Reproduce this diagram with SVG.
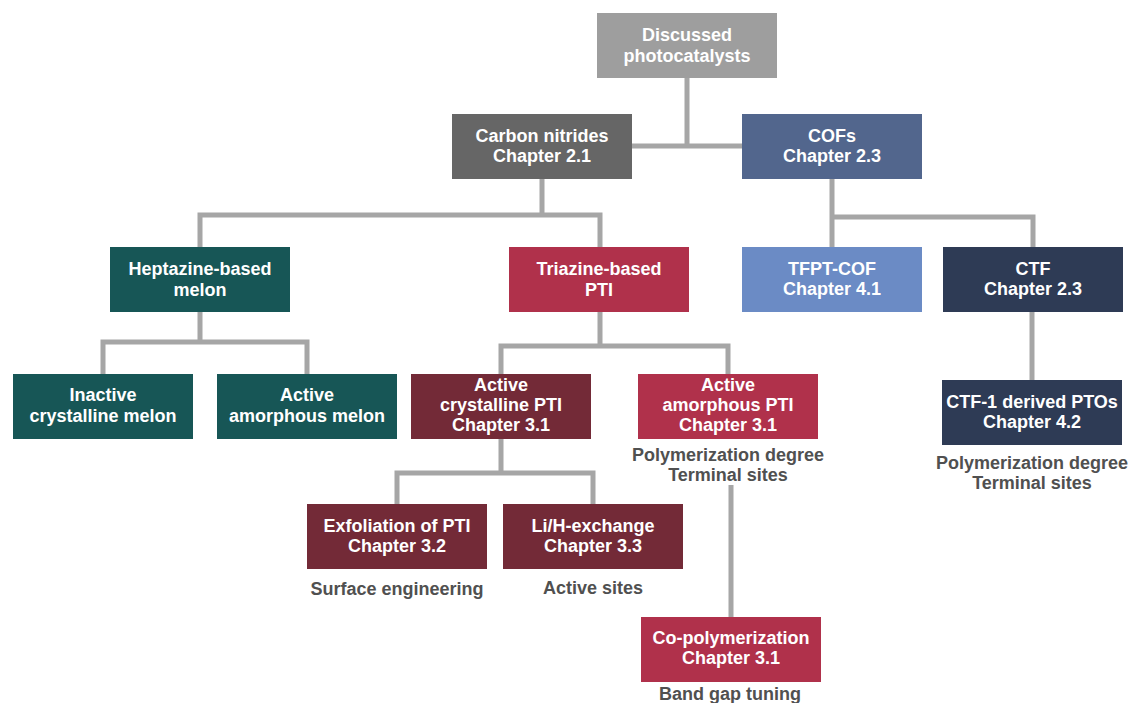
<svg xmlns="http://www.w3.org/2000/svg" width="1130" height="703" viewBox="0 0 1130 703">
<style>
.t{font-family:"Liberation Sans",Arial,sans-serif;font-weight:bold;font-size:18px;text-anchor:middle;fill:#ffffff}
.l{font-family:"Liberation Sans",Arial,sans-serif;font-weight:bold;font-size:18px;text-anchor:middle;fill:#505050}
.c{fill:none;stroke:#a6a6a6;stroke-width:5;stroke-linejoin:miter}
</style>
<rect width="1130" height="703" fill="#ffffff"/>
<g id="connectors">
<path class="c" d="M687 78 V146 M632 146 H742"/>
<path class="c" d="M542 179 V215 M200 247 V215 H600 V247"/>
<path class="c" d="M832 179 V247 M832 217 H1033 V247"/>
<path class="c" d="M200 312 V342 M103 374 V342 H307 V374"/>
<path class="c" d="M600 312 V346 M501 374 V346 H728 V374"/>
<path class="c" d="M501 439 V473 M397 504 V473 H593 V504"/>
<path class="c" d="M731 485 V617"/>
<path class="c" d="M1032 312 V380"/>
</g>
<g id="n-discussed"><rect x="597" y="13" width="180" height="65" fill="#9e9e9e"/><text class="t" x="687" y="41">Discussed</text><text class="t" x="687" y="62">photocatalysts</text></g>
<g id="n-carbon"><rect x="452" y="114" width="180" height="65" fill="#666666"/><text class="t" x="542" y="142">Carbon nitrides</text><text class="t" x="542" y="162">Chapter 2.1</text></g>
<g id="n-cofs"><rect x="742" y="114" width="180" height="65" fill="#52668d"/><text class="t" x="832" y="142">COFs</text><text class="t" x="832" y="162">Chapter 2.3</text></g>
<g id="n-heptazine"><rect x="110" y="247" width="180" height="65" fill="#175656"/><text class="t" x="200" y="275">Heptazine-based</text><text class="t" x="200" y="296">melon</text></g>
<g id="n-triazine"><rect x="509" y="247" width="180" height="65" fill="#b0314b"/><text class="t" x="599" y="275">Triazine-based</text><text class="t" x="599" y="296">PTI</text></g>
<g id="n-tfpt"><rect x="742" y="247" width="180" height="65" fill="#6b8bc5"/><text class="t" x="832" y="275">TFPT-COF</text><text class="t" x="832" y="295">Chapter 4.1</text></g>
<g id="n-ctf"><rect x="943" y="247" width="180" height="65" fill="#2e3b55"/><text class="t" x="1033" y="275">CTF</text><text class="t" x="1033" y="295">Chapter 2.3</text></g>
<g id="n-inactive"><rect x="13" y="374" width="180" height="65" fill="#175656"/><text class="t" x="103" y="401">Inactive</text><text class="t" x="103" y="422">crystalline melon</text></g>
<g id="n-amorphmelon"><rect x="217" y="374" width="180" height="65" fill="#175656"/><text class="t" x="307" y="401">Active</text><text class="t" x="307" y="422">amorphous melon</text></g>
<g id="n-crystpti"><rect x="411" y="374" width="180" height="65" fill="#732a37"/><text class="t" x="501" y="391">Active</text><text class="t" x="501" y="411">crystalline PTI</text><text class="t" x="501" y="431">Chapter 3.1</text></g>
<g id="n-amorphpti"><rect x="638" y="374" width="180" height="65" fill="#b0314b"/><text class="t" x="728" y="391">Active</text><text class="t" x="728" y="411">amorphous PTI</text><text class="t" x="728" y="431">Chapter 3.1</text><text class="l" x="728" y="461">Polymerization degree</text><text class="l" x="728" y="481">Terminal sites</text></g>
<g id="n-ctf1"><rect x="942" y="380" width="180" height="65" fill="#2e3b55"/><text class="t" x="1032" y="408">CTF-1 derived PTOs</text><text class="t" x="1032" y="428">Chapter 4.2</text><text class="l" x="1032" y="469">Polymerization degree</text><text class="l" x="1032" y="489">Terminal sites</text></g>
<g id="n-exfol"><rect x="307" y="504" width="180" height="65" fill="#732a37"/><text class="t" x="397" y="532">Exfoliation of PTI</text><text class="t" x="397" y="552">Chapter 3.2</text><text class="l" x="397" y="595">Surface engineering</text></g>
<g id="n-lih"><rect x="503" y="504" width="180" height="65" fill="#732a37"/><text class="t" x="593" y="532">Li/H-exchange</text><text class="t" x="593" y="552">Chapter 3.3</text><text class="l" x="593" y="594">Active sites</text></g>
<g id="n-copoly"><rect x="641" y="617" width="180" height="65" fill="#b0314b"/><text class="t" x="731" y="644">Co-polymerization</text><text class="t" x="731" y="664">Chapter 3.1</text><text class="l" x="730" y="700">Band gap tuning</text></g>
</svg>
